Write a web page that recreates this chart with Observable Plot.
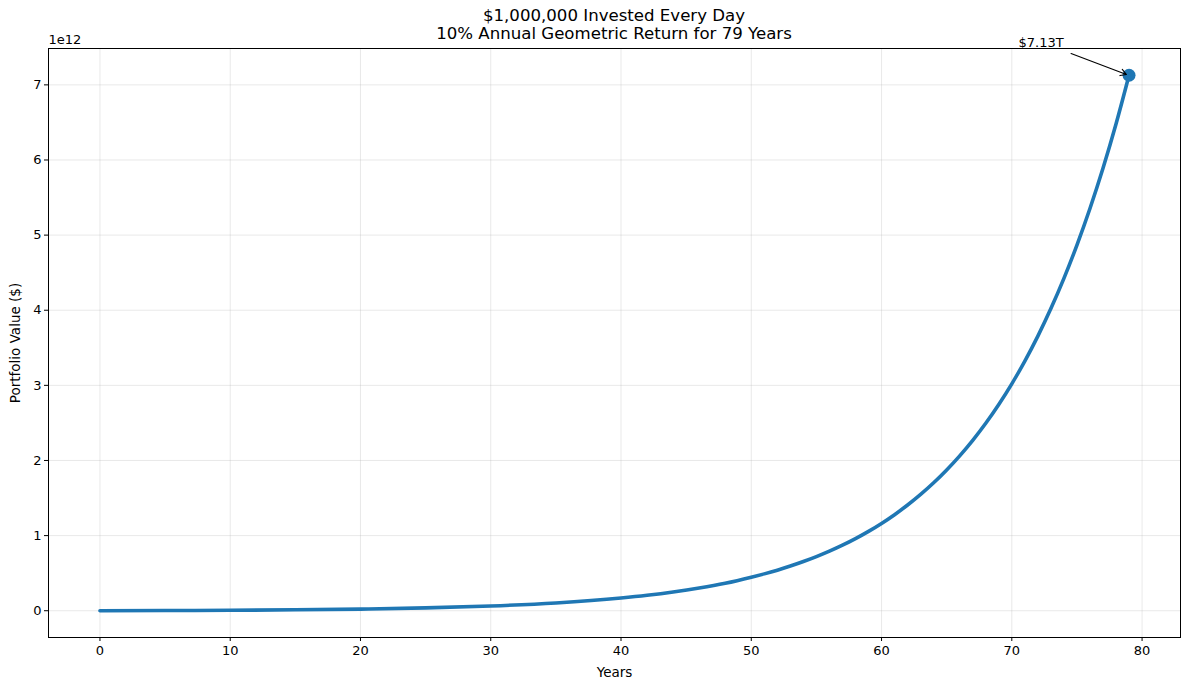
<!DOCTYPE html>
<html><head><meta charset="utf-8">
<script src="https://cdn.jsdelivr.net/npm/d3@7"></script>
<script src="https://cdn.jsdelivr.net/npm/@observablehq/plot@0.6"></script>
<style>
body{margin:0;background:#fff;font-family:"DejaVu Sans",sans-serif;}
#wrap{position:relative;width:1189px;height:690px;}
#title{position:absolute;left:48px;width:1132px;top:7px;text-align:center;font-size:16.6px;line-height:17.5px;color:#000;z-index:2;}
</style></head>
<body><div id="wrap"><div id="title">$1,000,000 Invested Every Day<br>10% Annual Geometric Return for 79 Years</div></div>
<script>
const years = [0, 5, 10, 15, 20, 25, 30, 35, 40, 42, 44, 46, 48, 50, 51, 52, 53, 54, 55, 56, 57, 58, 59, 60, 61, 62, 63, 64, 65, 66, 67, 68, 69, 70, 71, 72, 73, 74, 75, 76, 77, 78, 79];
const valuesT = [0, 0.0023, 0.0061, 0.0122, 0.0219, 0.0377, 0.063, 0.1038, 0.1695, 0.2054, 0.2488, 0.3013, 0.3648, 0.4457, 0.4907, 0.5401, 0.5946, 0.6544, 0.7202, 0.7926, 0.8722, 0.9599, 1.0562, 1.1622, 1.2788, 1.4071, 1.5482, 1.7034, 1.8741, 2.0619, 2.2685, 2.4957, 2.7456, 3.0206, 3.323, 3.6557, 4.0217, 4.4242, 4.867, 5.3541, 5.8899, 6.4793, 7.1277];
const xTicks = [0, 10, 20, 30, 40, 50, 60, 70, 80];
const yTicks = [0, 1, 2, 3, 4, 5, 6, 7];
const finalLabel = "$7.13T";

const data = years.map((y, i) => ({year: y, value: valuesT[i] * 1e12}));
const last = data[data.length - 1];
const blue = "#1f77b4";

const chart = Plot.plot({
  width: 1189, height: 690,
  marginLeft: 48, marginRight: 9, marginTop: 48, marginBottom: 53,
  style: {fontFamily: "DejaVu Sans, sans-serif", fontSize: "13px", color: "#000", background: "#fff"},
  x: {domain: [-3.95, 82.95], ticks: xTicks, tickSize: 4, label: null},
  y: {domain: [-0.3564e12, 7.4841e12], ticks: yTicks.map(d => d * 1e12), tickFormat: d => String(d / 1e12), tickSize: 4, label: null},
  marks: [
    Plot.gridX(xTicks, {stroke: "#b0b0b0", strokeOpacity: 0.35, strokeWidth: 0.8}),
    Plot.gridY(yTicks.map(d => d * 1e12), {stroke: "#b0b0b0", strokeOpacity: 0.35, strokeWidth: 0.8}),
    Plot.line(data, {x: "year", y: "value", stroke: blue, strokeWidth: 3.6, curve: "monotone-x"}),
    Plot.dot([last], {x: "year", y: "value", r: 6.5, fill: blue}),
    Plot.arrow([last], {x1: d => d.year - 4.45, y1: d => d.value + 0.29e12, x2: d => d.year - 0.2, y2: d => d.value + 0.01e12, stroke: "#000", strokeWidth: 1.1, headLength: 9, bend: false}),
    Plot.text([last], {x: "year", y: "value", text: () => finalLabel, dx: -88, dy: -32, fontSize: 13, fill: "#000"}),
    Plot.axisX(xTicks, {tickSize: 4, fontSize: 13, tickPadding: 4, label: null}),
    Plot.axisY(yTicks.map(d => d * 1e12), {tickSize: 4, fontSize: 13, tickPadding: 3, tickFormat: d => String(d / 1e12), label: null}),
    Plot.text(["Years"], {frameAnchor: "bottom", dy: 39.5, fontSize: 13.5, fill: "#000"}),
    Plot.text(["Portfolio Value ($)"], {frameAnchor: "left", dx: -33, rotate: -90, textAnchor: "middle", fontSize: 13.5, fill: "#000"}),
    Plot.text(["1e12"], {frameAnchor: "top-left", dy: -5, dx: 0, textAnchor: "start", lineAnchor: "bottom", fontSize: 13, fill: "#000"}),
    Plot.frame({stroke: "#000", strokeWidth: 1})
  ]
});
document.getElementById("wrap").prepend(chart);
chart.style.position = "absolute"; chart.style.left = "0"; chart.style.top = "0";
</script>
</body></html>
